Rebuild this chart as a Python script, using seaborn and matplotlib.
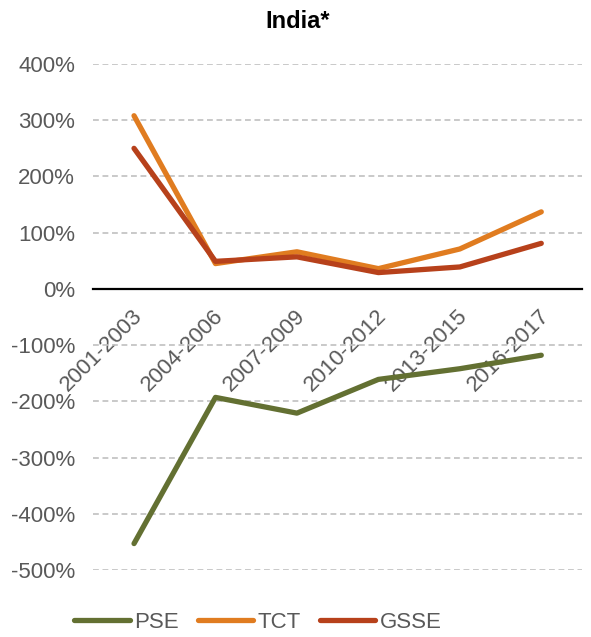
import numpy as np
import pandas as pd
import matplotlib
matplotlib.use("Agg")
import matplotlib.pyplot as plt
import matplotlib.ticker as mticker
from matplotlib.transforms import ScaledTranslation
from matplotlib.lines import Line2D
import seaborn as sns

periods = ["2001-2003", "2004-2006", "2007-2009", "2010-2012", "2013-2015", "2016-2017"]
pse = [-453, -193, -221, -161, -142, -118]
tct = [308, 45, 66, 36, 71, 137]
gsse = [250, 49, 57, 29, 39, 81]
series_names = ["PSE", "TCT", "GSSE"]
colors = ["#637032", "#E07C20", "#B7411B"]
yticks = [400, 300, 200, 100, 0, -100, -200, -300, -400, -500]
title = "India*"

df = pd.DataFrame({
    "period": periods * 3,
    "value": pse + tct + gsse,
    "series": [s for s in series_names for _ in periods],
})

sns.set_theme(style="white")
plt.rcParams["font.family"] = ["Liberation Sans", "DejaVu Sans"]
plt.rcParams["axes.unicode_minus"] = False

DPI = 100
fig = plt.figure(figsize=(5.91, 6.37), dpi=DPI)
W, H = 591, 637
left, right, top, bottom = 93.3, 582, 64, 570
ax = fig.add_axes([left / W, 1 - bottom / H, (right - left) / W, (bottom - top) / H])

sns.lineplot(data=df, x="period", y="value", hue="series", hue_order=series_names,
             palette=colors, linewidth=3.8, ax=ax, sort=False, legend=False,
             solid_capstyle="round")

ax.set_xlim(-0.5, 5.5)
ax.set_ylim(-500, 400)
ax.set_yticks(yticks)
ax.yaxis.set_major_formatter(mticker.FuncFormatter(lambda v, p: f"{int(v)}%"))
ax.grid(axis="y", color="#C0C0C0", linestyle=(0, (3.5, 2.2)), linewidth=1.2)
ax.grid(axis="x", visible=False)
ax.set_axisbelow(True)
for s in ["top", "right", "left"]:
    ax.spines[s].set_visible(False)
ax.spines["bottom"].set_position(("data", 0))
ax.spines["bottom"].set_color("black")
ax.spines["bottom"].set_linewidth(1.6)
ax.spines["bottom"].set_zorder(1)
ax.set_xlabel("")
ax.set_ylabel("")
ax.tick_params(axis="y", length=0, pad=13, labelsize=16, labelcolor="#595959")
ax.tick_params(axis="x", length=0, pad=17, labelsize=16, labelcolor="#595959")
ax.set_xticks(range(len(periods)))
ax.set_xticklabels(periods)
off = ScaledTranslation(5 / DPI, 0, fig.dpi_scale_trans)
for lab in ax.get_xticklabels():
    lab.set_rotation(45)
    lab.set_ha("right")
    lab.set_va("center")
    lab.set_rotation_mode("anchor")
    lab.set_transform(lab.get_transform() + off)

fig.text(0.504, 1 - 28.5 / H, title, ha="center", va="baseline",
         fontsize=17, fontweight="bold", color="black")

handles = [Line2D([], [], color=c, linewidth=3.8, solid_capstyle="round") for c in colors]
leg = fig.legend(handles, series_names, loc="center", bbox_to_anchor=(258 / W, 1 - 622 / H),
                 ncol=3, frameon=False, fontsize=16, handlelength=2.5, handletextpad=0.2,
                 columnspacing=0.85, borderpad=0)
for t in leg.get_texts():
    t.set_color("#595959")

fig.savefig("out.png", dpi=DPI)
